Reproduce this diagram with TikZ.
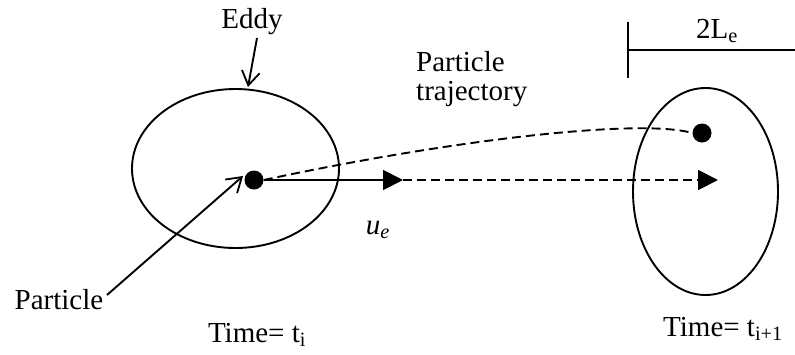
\documentclass[tikz,border=0pt]{standalone}
\usepackage{fontspec}
\setmainfont{Liberation Serif}
\usetikzlibrary{arrows.meta}
\begin{document}
\begin{tikzpicture}[x=1pt,y=-1pt,
  lbl/.style={inner sep=0pt,font=\fontsize{29}{33}\selectfont},
  ln/.style={line width=1.9pt},
  dsh/.style={ln,dash pattern=on 9pt off 5pt},
  dot/.style={circle,fill=black,minimum size=19pt,inner sep=0pt},
  tri/.style={-{Triangle[length=20pt,width=20pt]}},
  barb/.style={-{Straight Barb[length=14pt,width=18pt,line width=1.8pt]}}]
\useasboundingbox (0,0) rectangle (795,354);
% eddies
\draw[ln] (235.5,168.5) ellipse [x radius=103.5, y radius=79.5];
\draw[ln] (705.5,191.5) ellipse [x radius=72.5, y radius=103.5];
% particles
\node[dot] (p1) at (254,180) {};
\node[dot] (p2) at (702,133) {};
\coordinate (a1) at (403,180);
\coordinate (a2) at (718,180);
% trajectory
\draw[dsh] (p1.east) .. controls (450,140) and (640,118) .. (p2.west);
\draw[ln,tri] (p1.east) -- (a1);
\draw[dsh,tri] (a1) -- (a2);
% labels
\node[lbl] (eddy) at (252,22) {Eddy};
\coordinate (eddytip) at (248,87);
\draw[ln,barb] (257,38) -- (eddytip);
\node[lbl,anchor=base] (part) at (59,309) {Particle};
\coordinate (ptip) at (243,176);
\draw[ln,barb] (107,295) -- (ptip);
\node[lbl,anchor=west,align=left] (traj) at (416,79) {Particle\\[-4pt]trajectory};
\node[lbl] (ue) at (378,230) {\textit{u}\textsubscript{\textit{e}}};
\node[lbl,anchor=base] (t1) at (257,342) {Time= t\textsubscript{i}};
\node[lbl,anchor=base] (t2) at (723,336) {Time= t\textsubscript{i+1}};
% scale bar
\coordinate (s1) at (628,22);
\coordinate (s2) at (628,78);
\coordinate (s3) at (628,50);
\coordinate (s4) at (795,50);
\draw[ln] (s1) -- (s2);
\draw[ln] (s3) -- (s4);
\node[lbl] (le) at (717,31) {2L\textsubscript{e}};
\end{tikzpicture}
\end{document}
